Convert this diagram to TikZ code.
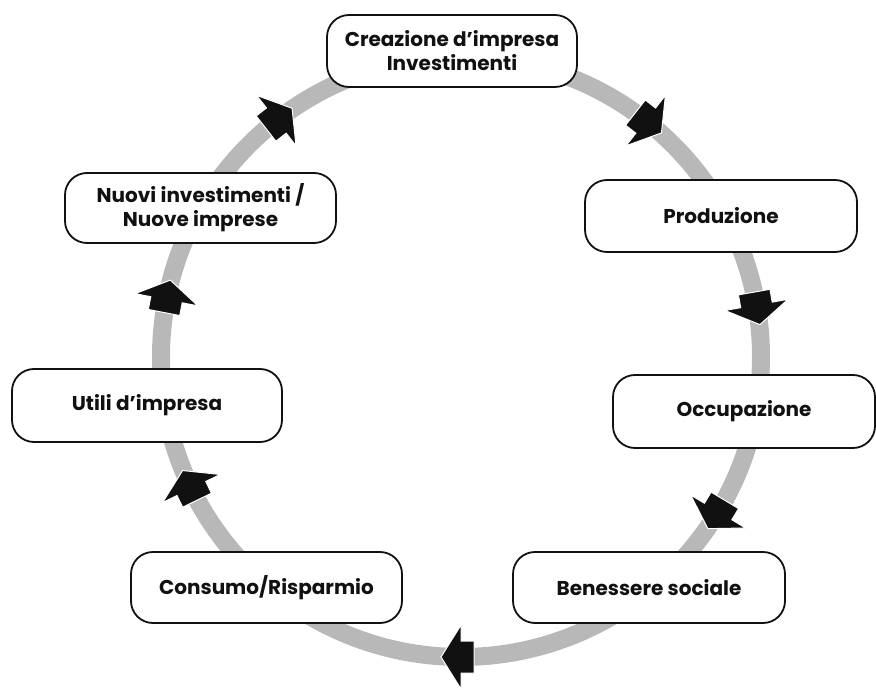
\documentclass[tikz,border=0pt]{standalone}
\usepackage{fontspec}
\setmainfont{Poppins}
\definecolor{ringgray}{RGB}{184,184,184}
\definecolor{inkblack}{RGB}{17,17,17}
\begin{document}
\begin{tikzpicture}[x=1pt,y=1pt,
  stagebox/.style={draw=inkblack, line width=1.8pt, rounded corners=22pt, fill=white,
    align=center, text=inkblack, inner sep=0pt,
    font=\fontsize{20}{24}\selectfont\bfseries},
  ringline/.style={draw=ringgray, line width=18pt},
  flowarrow/.style={fill=inkblack, draw=white, line width=1pt, line join=miter}]
\useasboundingbox (0,0) rectangle (876,689);
\coordinate (c) at (461,332);
% ring
\draw[ringline] (c) circle (300);
% arrows along the ring (clockwise)
\foreach \t in {52,10,-31,-90,-154,169,128} {
  \filldraw[flowarrow, shift={(c)}, rotate=\t]
    (284,13) -- (284,0) -- (268,0) -- (300,-20) -- (332,0) -- (316,0) -- (316,13) -- cycle;
}
% boxes
\node[stagebox, minimum width=250pt, minimum height=72pt] (crea) at (452,638) {Creazione d’impresa\\Investimenti};
\node[stagebox, minimum width=272pt, minimum height=72pt] (prod) at (721,473) {Produzione};
\node[stagebox, minimum width=262pt, minimum height=73pt] (occ) at (744,277.5) {Occupazione};
\node[stagebox, minimum width=272pt, minimum height=71pt] (ben) at (649,101.5) {Benessere sociale};
\node[stagebox, minimum width=271pt, minimum height=71pt] (cons) at (266.5,101.5) {Consumo/Risparmio};
\node[stagebox, minimum width=270pt, minimum height=73pt] (util) at (147,283.5) {Utili d’impresa};
\node[stagebox, minimum width=271pt, minimum height=70pt] (nuovi) at (200.5,481) {Nuovi investimenti /\\Nuove imprese};
\end{tikzpicture}
\end{document}
